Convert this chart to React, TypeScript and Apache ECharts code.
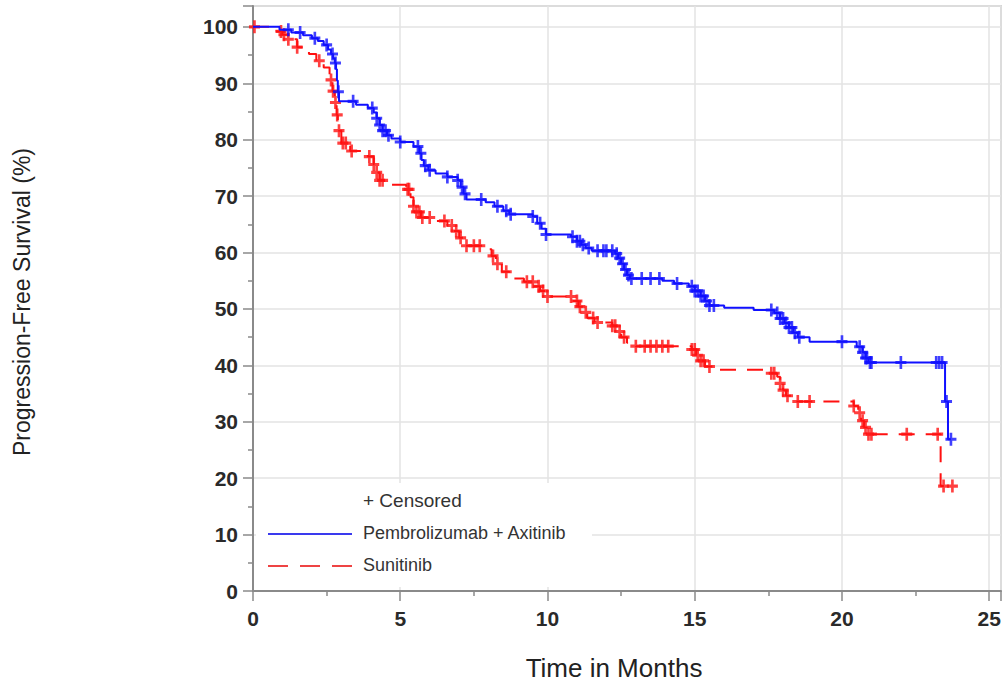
import React, { useEffect, useRef } from "react";
import * as echarts from "echarts";

// Kaplan-Meier step points: [time in months, survival %]
const pembroSteps: [number, number][] = [
  [0, 100], [0.9, 99.5], [1.3, 99.0], [1.7, 98.5], [2.0, 98.0], [2.2, 97.5], [2.4, 96.8], [2.55, 96.0],
  [2.65, 95.2], [2.72, 94.4], [2.78, 93.6], [2.82, 92.5], [2.85, 90.5], [2.88, 88.5], [2.92, 86.8],
  [3.5, 86.2], [3.9, 85.6], [4.1, 84.8], [4.2, 83.8], [4.3, 82.6], [4.4, 81.6], [4.55, 80.8], [4.7, 80.2],
  [5.0, 79.6], [5.45, 78.8], [5.65, 77.6], [5.72, 76.4], [5.8, 75.4], [5.95, 74.6], [6.2, 74.0], [6.6, 73.4],
  [6.95, 72.8], [7.05, 71.6], [7.15, 70.4], [7.25, 69.4], [7.9, 68.9], [8.2, 68.2], [8.5, 67.4], [8.7, 66.8],
  [9.5, 66.4], [9.65, 65.2], [9.8, 64.2], [9.95, 63.2], [10.8, 62.8], [11.0, 62.0], [11.15, 61.4], [11.3, 60.8],
  [11.5, 60.3], [12.3, 59.8], [12.4, 59.0], [12.5, 58.0], [12.6, 57.0], [12.7, 56.0], [12.8, 55.4], [13.9, 55.0],
  [14.3, 54.5], [14.8, 54.0], [15.0, 53.2], [15.2, 52.3], [15.35, 51.4], [15.5, 50.6], [16.0, 50.2], [17.0, 49.8],
  [17.7, 49.3], [17.9, 48.3], [18.05, 47.5], [18.2, 46.7], [18.35, 45.8], [18.5, 45.0], [18.9, 44.2], [20.5, 43.3],
  [20.7, 42.3], [20.8, 41.3], [20.9, 40.5], [23.5, 33.6], [23.6, 26.9], [23.7, 26.9],
];
const pembroCensor: number[] = [
  1.2, 1.6, 2.1, 2.5, 2.7, 2.8, 2.9, 3.4, 4.05, 4.2, 4.3, 4.4, 4.5, 4.6, 5.0, 5.6, 5.7, 5.85, 6.0, 6.6,
  6.95, 7.1, 7.2, 7.75, 8.3, 8.6, 8.75, 9.5, 9.75, 9.95, 10.85, 11.0, 11.1, 11.2, 11.4, 11.7, 11.9, 12.0,
  12.2, 12.35, 12.45, 12.55, 12.65, 12.75, 12.85, 13.2, 13.5, 13.8, 14.4, 14.9, 15.0, 15.1, 15.2, 15.3,
  15.4, 15.5, 15.65, 17.6, 17.8, 17.9, 18.0, 18.1, 18.2, 18.3, 18.4, 18.55, 20.0, 20.6, 20.7, 20.8, 20.85,
  20.95, 21.0, 22.0, 23.2, 23.3, 23.4, 23.55, 23.7,
];

const sunitSteps: [number, number][] = [
  [0, 100], [0.8, 99.2], [1.0, 98.6], [1.2, 97.8], [1.5, 96.4], [1.9, 95.2], [2.15, 94.0], [2.4, 92.8],
  [2.6, 90.6], [2.7, 88.6], [2.78, 86.6], [2.84, 84.4], [2.88, 81.6], [3.0, 79.4], [3.3, 78.0], [3.9, 77.0],
  [4.1, 75.6], [4.2, 74.2], [4.3, 72.8], [4.45, 72.0], [5.2, 71.2], [5.35, 69.8], [5.45, 68.2], [5.55, 67.2],
  [5.7, 66.2], [6.1, 65.6], [6.6, 64.8], [6.8, 63.8], [7.0, 62.6], [7.2, 61.2], [7.8, 60.6], [8.1, 59.4],
  [8.25, 58.0], [8.45, 56.6], [8.7, 55.4], [9.2, 54.8], [9.55, 54.0], [9.75, 53.2], [9.95, 52.2], [10.85, 51.4],
  [11.05, 50.4], [11.2, 49.4], [11.35, 48.4], [11.6, 47.6], [12.2, 47.0], [12.35, 46.0], [12.5, 45.0],
  [12.7, 44.0], [13.0, 43.4], [14.9, 42.8], [15.05, 41.8], [15.2, 40.8], [15.35, 39.8], [15.6, 39.2],
  [17.5, 38.6], [17.8, 38.0], [17.9, 36.8], [18.0, 35.6], [18.1, 34.6], [18.3, 33.6], [20.4, 32.8],
  [20.55, 31.6], [20.65, 30.2], [20.75, 29.0], [20.85, 27.8], [23.35, 18.6], [23.8, 18.6],
];
const sunitCensor: number[] = [
  0.05, 0.95, 1.05, 1.2, 1.5, 2.25, 2.65, 2.72, 2.8, 2.86, 2.92, 3.05, 3.15, 3.35, 3.95, 4.1, 4.2, 4.3, 4.4,
  5.25, 5.3, 5.45, 5.55, 5.65, 5.75, 6.0, 6.5, 6.75, 6.9, 7.05, 7.25, 7.5, 7.7, 8.15, 8.3, 8.6, 9.3, 9.5,
  9.7, 9.85, 10.0, 10.8, 11.0, 11.1, 11.3, 11.55, 11.7, 12.2, 12.3, 12.45, 12.6, 13.0, 13.3, 13.5, 13.7,
  13.9, 14.1, 14.9, 15.0, 15.1, 15.2, 15.3, 15.5, 17.6, 17.7, 17.9, 18.0, 18.15, 18.5, 18.9, 20.4, 20.6,
  20.7, 20.8, 20.9, 21.0, 22.2, 23.25, 23.45, 23.75,
];

const xTickLabels = [0, 5, 10, 15, 20, 25];
const yTickLabels = [0, 10, 20, 30, 40, 50, 60, 70, 80, 90, 100];

const seriesNames = ["Pembrolizumab + Axitinib", "Sunitinib"];
const censorLabel = "+ Censored";
const xTitle = "Time in Months";
const yTitle = "Progression-Free Survival (%)";

function survivalAt(steps: [number, number][], t: number): number {
  let y = steps[0][1];
  for (const [x, v] of steps) {
    if (x <= t) y = v;
    else break;
  }
  return y;
}

const PLUS = "path://M3.8,0H6.2V3.8H10V6.2H6.2V10H3.8V6.2H0V3.8H3.8Z";
const FONT = "'Liberation Sans', Arial, sans-serif";

export default function App() {
  const ref = useRef<HTMLDivElement>(null);
  useEffect(() => {
    if (!ref.current) return;
    const chart = echarts.init(ref.current, undefined, { renderer: "svg" });
    const blue = "#1010ff";
    const red = "#ff1010";
    const option: any = {
      animation: false,
      backgroundColor: "#ffffff",
      grid: {
        left: 253, right: 4, top: 6, bottom: 92,
        show: true, borderColor: "#b5b5b5", borderWidth: 1.5,
      },
      xAxis: {
        type: "value", min: 0, max: 25.4, interval: 5,
        axisLine: { show: true, onZero: false, lineStyle: { color: "#8a8a8a", width: 2 } },
        axisTick: { show: true, length: 10, lineStyle: { color: "#8a8a8a", width: 1.5 } },
        minorTick: { show: true, splitNumber: 2, length: 5, lineStyle: { color: "#8a8a8a", width: 1.5 } },
        splitLine: { show: true, lineStyle: { color: "#e3e3e3", width: 1.5 } },
        axisLabel: {
          margin: 17, fontSize: 21, fontWeight: "bold", color: "#2a2a2a", fontFamily: FONT,
          formatter: (v: number) => (xTickLabels.includes(v) ? String(v) : ""),
        },
      },
      yAxis: {
        type: "value", min: 0, max: 103.7, interval: 10,
        axisLine: { show: true, onZero: false, lineStyle: { color: "#8a8a8a", width: 2 } },
        axisTick: { show: true, length: 10, lineStyle: { color: "#8a8a8a", width: 1.5 } },
        minorTick: { show: true, splitNumber: 2, length: 5, lineStyle: { color: "#8a8a8a", width: 1.5 } },
        splitLine: { show: true, lineStyle: { color: "#e3e3e3", width: 1.5 } },
        axisLabel: {
          margin: 15, fontSize: 21, fontWeight: "bold", color: "#2a2a2a", fontFamily: FONT,
          formatter: (v: number) => (yTickLabels.includes(v) ? String(v) : ""),
        },
      },
      series: [
        {
          name: seriesNames[1], type: "line", step: "end", showSymbol: false, symbol: "none",
          data: sunitSteps, lineStyle: { color: red, width: 2, type: [16, 11] }, z: 2,
        },
        {
          name: seriesNames[1] + " censored", type: "scatter", symbol: PLUS, symbolSize: [11, 13],
          data: sunitCensor.map((t) => [t, survivalAt(sunitSteps, t)]),
          itemStyle: { color: red }, z: 3,
        },
        {
          name: seriesNames[0], type: "line", step: "end", showSymbol: false, symbol: "none",
          data: pembroSteps, lineStyle: { color: blue, width: 2 }, z: 4,
        },
        {
          name: seriesNames[0] + " censored", type: "scatter", symbol: PLUS, symbolSize: [11, 13],
          data: pembroCensor.map((t) => [t, survivalAt(pembroSteps, t)]),
          itemStyle: { color: blue }, z: 5,
        },
      ],
      graphic: [
        {
          type: "rect", z: 1, shape: { x: 256, y: 483, width: 336, height: 104 },
          style: { fill: "#ffffff" },
        },
        {
          type: "text", left: 363, top: 491, z: 10,
          style: { text: censorLabel, font: `19px ${FONT}`, fill: "#333" },
        },
        {
          type: "line", z: 10, shape: { x1: 268, y1: 534, x2: 352, y2: 534 },
          style: { stroke: "#3a3aee", lineWidth: 2 },
        },
        {
          type: "text", left: 363, top: 524, z: 10,
          style: { text: seriesNames[0], font: `18px ${FONT}`, fill: "#333" },
        },
        {
          type: "line", z: 10, shape: { x1: 268, y1: 566, x2: 352, y2: 566 },
          style: { stroke: "#ee4444", lineWidth: 2, lineDash: [20, 12] },
        },
        {
          type: "text", left: 363, top: 556, z: 10,
          style: { text: seriesNames[1], font: `18px ${FONT}`, fill: "#333" },
        },
        {
          type: "text", x: 614, y: 668, z: 10,
          style: { text: xTitle, font: `26px ${FONT}`, fill: "#222", align: "center", verticalAlign: "middle" },
        },
        {
          type: "text", x: 22, y: 302, rotation: Math.PI / 2, z: 10,
          style: { text: yTitle, font: `23px ${FONT}`, fill: "#222", align: "center", verticalAlign: "middle" },
        },
      ],
    };
    chart.setOption(option);
    return () => chart.dispose();
  }, []);
  return (
    <div
      ref={ref}
      style={{ position: "fixed", left: 0, top: 0, width: 1005, height: 683, background: "#fff" }}
    />
  );
}
